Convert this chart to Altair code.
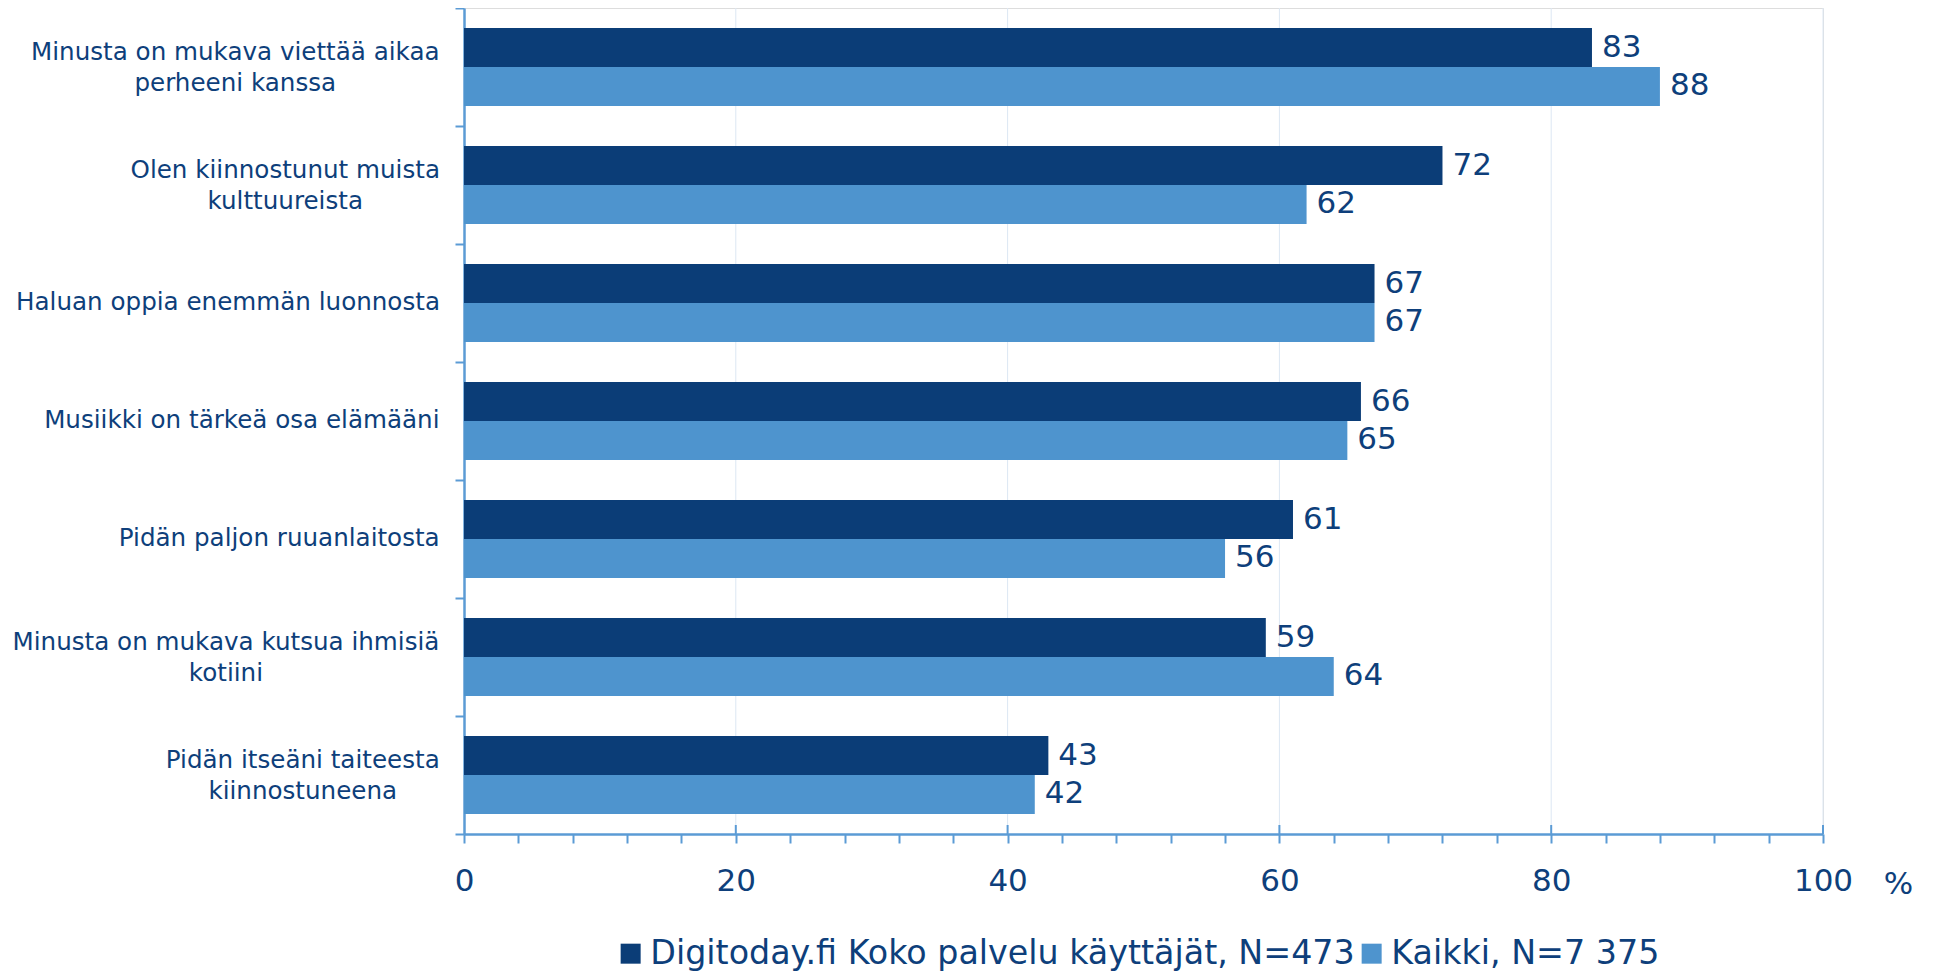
import altair as alt
import pandas as pd

# ---------------- data ----------------
categories = [
    ["Minusta on mukava viettää aikaa", "perheeni kanssa"],
    ["Olen kiinnostunut muista", "kulttuureista"],
    ["Haluan oppia enemmän luonnosta"],
    ["Musiikki on tärkeä osa elämääni"],
    ["Pidän paljon ruuanlaitosta"],
    ["Minusta on mukava kutsua ihmisiä", "kotiini"],
    ["Pidän itseäni taiteesta", "kiinnostuneena"],
]
series = ["Digitoday.fi Koko palvelu käyttäjät, N=473", "Kaikki, N=7 375"]
digitoday = [83, 72, 67, 66, 61, 59, 43]
kaikki = [88, 62, 67, 65, 56, 64, 42]
x_ticks = list(range(0, 101, 4))
grid_values = [20, 40, 60, 80, 100]

# ---------------- style ----------------
DARK = "#0b3d77"
LIGHT = "#4e94ce"
TEXT = "#0e3f7b"
AXIS = "#5b9bd5"
GRID = "#dce7f3"
FONT = "DejaVu Sans"
PLOT_W = 1359
PLOT_H = 826
CAT_FS = 24.6
BIG_FS = 31
LINE_H = 31

# DejaVu Sans advance widths (units per em = 2048) for centring label blocks
ADV = {" ": 651, "a": 1255, "d": 1300, "e": 1260, "h": 1298, "i": 569, "j": 569,
       "k": 1186, "l": 569, "m": 1995, "n": 1298, "o": 1253, "p": 1300, "r": 842,
       "s": 1067, "t": 803, "u": 1298, "v": 1212, "ä": 1255, "M": 1767, "O": 1612,
       "H": 1540, "P": 1235}


def text_width(s, fs):
    return sum(ADV.get(c, 1200) for c in s) / 2048 * fs


cat_ids = [" ".join(c) for c in categories]

rows = []
for cid, a, b in zip(cat_ids, digitoday, kaikki):
    rows.append({"category": cid, "series": series[0], "value": a})
    rows.append({"category": cid, "series": series[1], "value": b})
bars_df = pd.DataFrame(rows)

label_rows = []
for cid, lines in zip(cat_ids, categories):
    w = max(text_width(l, CAT_FS) for l in lines)
    centre_px = -24 - w / 2
    label_rows.append({"category": cid, "text": "\n".join(lines),
                       "nlines": len(lines),
                       "lx": centre_px * 100 / PLOT_W})
labels_df = pd.DataFrame(label_rows)

grid_df = pd.DataFrame({"g": grid_values})

x_scale = alt.Scale(domain=[0, 100], nice=False, zero=True)
y_enc = alt.Y("category:N", sort=cat_ids,
              scale=alt.Scale(paddingInner=0, paddingOuter=0),
              axis=alt.Axis(title=None, labels=False, tickBand="extent", tickSize=9,
                            tickColor=AXIS, tickWidth=2, domainColor=AXIS,
                            domainWidth=2.5, grid=False))
yoff_enc = alt.YOffset("series:N", sort=series,
                       scale=alt.Scale(paddingOuter=0.515, paddingInner=0))

grid = alt.Chart(grid_df).mark_rule(color=GRID, strokeWidth=1).encode(
    x=alt.X("g:Q", scale=x_scale)
)

major_ticks = alt.Chart(grid_df).mark_rule(color=AXIS, strokeWidth=2).encode(
    x=alt.X("g:Q", scale=x_scale),
    y=alt.value(PLOT_H - 9),
    y2=alt.value(PLOT_H),
)

bars = alt.Chart(bars_df).mark_bar().encode(
    x=alt.X("value:Q", scale=x_scale,
            axis=alt.Axis(values=x_ticks, grid=False, tickSize=9, tickColor=AXIS,
                          tickWidth=2, domainColor=AXIS, domainWidth=2.5,
                          labelExpr="datum.value % 20 == 0 ? datum.label : ''",
                          labelFont=FONT, labelFontSize=BIG_FS, labelColor=TEXT,
                          labelPadding=23, labelFlush=False,
                          title="%", titleFont=FONT, titleFontSize=BIG_FS,
                          titleFontWeight="normal", titleColor=TEXT,
                          titleX=1434, titleY=50, titleBaseline="middle",
                          titleAlign="center", titleAngle=0)),
    y=y_enc,
    yOffset=yoff_enc,
    color=alt.Color("series:N",
                    scale=alt.Scale(domain=series, range=[DARK, LIGHT]),
                    legend=alt.Legend(title=None, orient="none", legendX=150,
                                      legendY=929, direction="horizontal",
                                      symbolType="square", symbolSize=400,
                                      symbolStrokeWidth=0, labelFont=FONT,
                                      labelFontSize=33.3, labelColor=TEXT,
                                      labelLimit=2000, labelOffset=3,
                                      columnPadding=-21, padding=0)),
)

values = alt.Chart(bars_df).mark_text(
    align="left", baseline="middle", dx=10, font=FONT, fontSize=BIG_FS, color=TEXT
).encode(
    x=alt.X("value:Q", scale=x_scale),
    y=alt.Y("category:N", sort=cat_ids),
    yOffset=yoff_enc,
    text=alt.Text("value:Q"),
)


def cat_layer(n, dy):
    return alt.Chart(labels_df).transform_filter(
        alt.datum.nlines == n
    ).mark_text(
        align="center", baseline="middle", lineBreak="\n", lineHeight=LINE_H,
        font=FONT, fontSize=CAT_FS, color=TEXT, dy=dy
    ).encode(
        x=alt.X("lx:Q", scale=x_scale),
        y=alt.Y("category:N", sort=cat_ids),
        text="text:N",
    )


cat_one = cat_layer(1, 0)
cat_two = cat_layer(2, -14)

chart = alt.layer(grid, bars, major_ticks, values, cat_one, cat_two).properties(
    width=PLOT_W, height=PLOT_H,
    autosize=alt.AutoSizeParams(type="none"),
    padding={"left": 456, "top": 0, "right": 100, "bottom": 140},
).configure_view(stroke=None).configure(background="white")

chart.save("out.html", embed_options={"renderer": "svg", "actions": False})
